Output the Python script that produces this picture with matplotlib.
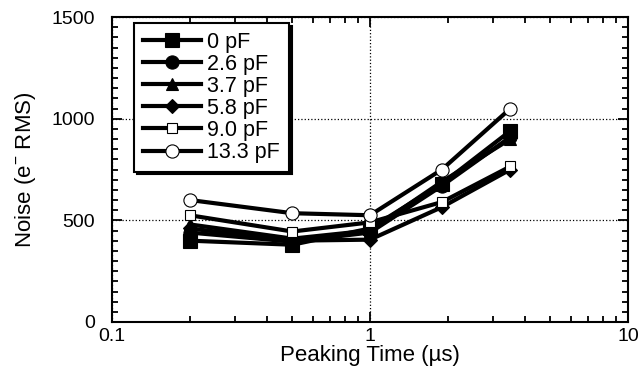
import matplotlib
matplotlib.use("Agg")
import matplotlib.pyplot as plt
from matplotlib.ticker import LogLocator, MultipleLocator, FixedFormatter, FixedLocator

plt.rcParams['font.family'] = ['Liberation Sans', 'DejaVu Sans']

# peaking times (us) and noise (e- RMS) per input capacitance
peaking_time = [0.2, 0.5, 1.0, 1.9, 3.5]
noise_0pF = [400, 380, 460, 680, 940]
noise_2p6pF = [440, 395, 440, 670, 910]
noise_3p7pF = [480, 410, 450, 690, 900]
noise_5p8pF = [460, 400, 405, 565, 750]
noise_9p0pF = [525, 445, 490, 590, 765]
noise_13p3pF = [600, 535, 525, 750, 1050]

labels = ["0 pF", "2.6 pF", "3.7 pF", "5.8 pF", "9.0 pF", "13.3 pF"]
series = [noise_0pF, noise_2p6pF, noise_3p7pF, noise_5p8pF, noise_9p0pF, noise_13p3pF]
markers = ["s", "o", "^", "D", "s", "o"]
filled = [True, True, True, True, False, False]
msizes = [10, 9.5, 9, 7.5, 7, 9.5]

fig = plt.figure(figsize=(6.38, 3.68), dpi=100)
ax = fig.add_axes([112 / 638, 1 - 322 / 368, 516 / 638, 305 / 368])

for y, lab, m, f, ms in zip(series, labels, markers, filled, msizes):
    ax.plot(peaking_time, y, color="black", linewidth=3, marker=m,
            markersize=ms, markerfacecolor="black" if f else "white",
            markeredgecolor="black", markeredgewidth=0.8, label=lab)

ax.set_xscale("log")
ax.set_xlim(0.1, 10)
ax.set_ylim(0, 1500)
ax.xaxis.set_major_locator(FixedLocator([0.1, 1, 10]))
ax.xaxis.set_major_formatter(FixedFormatter(["0.1", "1", "10"]))
ax.xaxis.set_minor_locator(LogLocator(base=10, subs=range(2, 10)))
ax.yaxis.set_major_locator(MultipleLocator(500))
ax.yaxis.set_minor_locator(MultipleLocator(50))

ax.tick_params(which="both", direction="in", top=True, right=True,
               width=1.3, labelsize=14, colors="black")
ax.tick_params(which="major", length=7)
ax.tick_params(axis="x", which="major", pad=4)
ax.tick_params(axis="y", which="major", pad=12)
ax.tick_params(which="minor", length=4.5)
for s in ax.spines.values():
    s.set_linewidth(1.5)

ax.grid(True, which="major", linestyle=":", color="black", linewidth=0.9)

ax.set_xlabel("Peaking Time (µs)", fontsize=16, labelpad=0)
ax.set_ylabel("Noise (e$^{\\mathregular{-}}$ RMS)", fontsize=16, labelpad=10)

leg = ax.legend(loc="upper left", bbox_to_anchor=(0.043, 0.98), borderaxespad=0,
                fontsize=15.5, handlelength=2.7, labelspacing=0.05, handletextpad=0.3,
                borderpad=0.4, fancybox=False, framealpha=1,
                shadow={"color": "black", "alpha": 1})
leg.get_frame().set_edgecolor("black")
leg.get_frame().set_linewidth(1.5)

fig.savefig("out.png", dpi=100)
